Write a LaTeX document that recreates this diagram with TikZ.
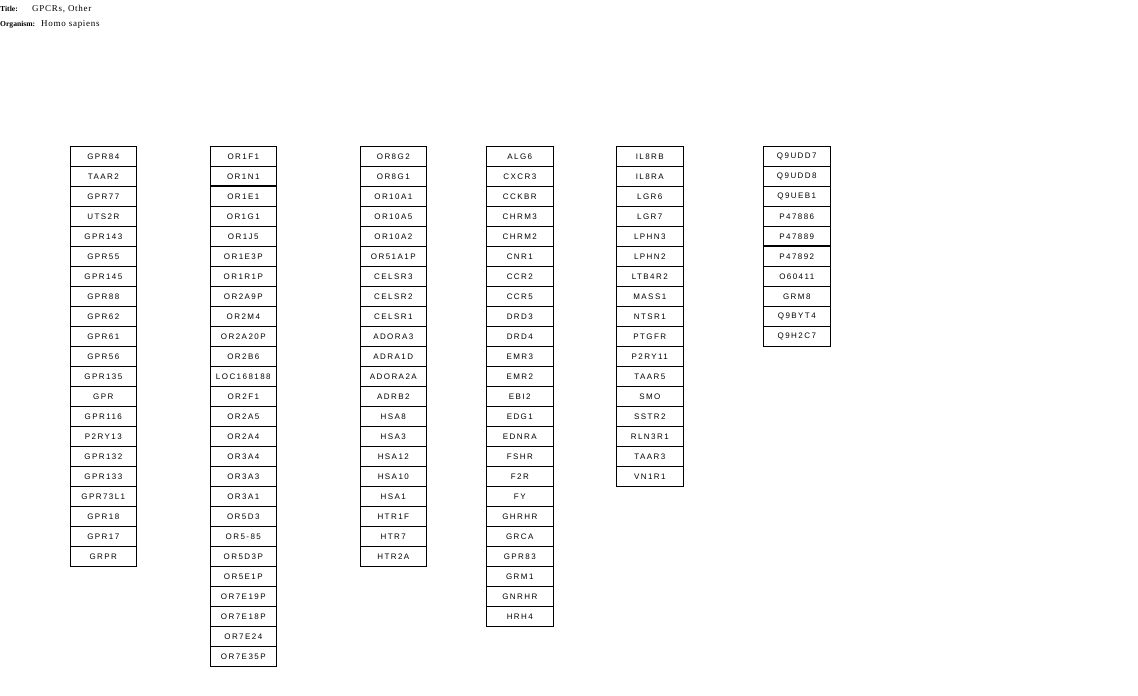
\documentclass[tikz,border=0pt]{standalone}
\usepackage{fontspec}
\setmainfont{Liberation Serif}
\newfontfamily\genefont[LetterSpace=18]{Liberation Sans}
\newfontfamily\hdrfont[LetterSpace=8]{Liberation Serif}
\begin{document}
\begin{tikzpicture}[x=1pt,y=-1pt,
  genebox/.style={draw=black,line width=0.6pt,minimum width=66pt,minimum height=20pt,inner sep=0pt,anchor=north west,font=\genefont\fontsize{8}{9}\selectfont},
  hdrkey/.style={anchor=base west,inner sep=0pt,font=\rmfamily\bfseries\fontsize{7.6}{9}\selectfont},
  hdr/.style={anchor=base west,inner sep=0pt,font=\hdrfont\fontsize{9}{10}\selectfont}]
\useasboundingbox (0,0) rectangle (1138,696);
\node[hdrkey] (t1) at (0,12) {Title:};
\node[hdr] (t2) at (32,12) {GPCRs, Other};
\node[hdrkey] (o1) at (0,26) {Organism:};
\node[hdr] (o2) at (41,26) {Homo sapiens};
% column 1
\foreach \t [count=\i from 0] in {GPR84,TAAR2,GPR77,UTS2R,GPR143,GPR55,GPR145,GPR88,GPR62,GPR61,GPR56,GPR135,GPR,GPR116,P2RY13,GPR132,GPR133,GPR73L1,GPR18,GPR17,GRPR}
  \node[genebox] (a\i) at (70,146+20*\i) {\t};
% column 2
\foreach \t [count=\i from 0] in {OR1F1,OR1N1,OR1E1,OR1G1,OR1J5,OR1E3P,OR1R1P,OR2A9P,OR2M4,OR2A20P,OR2B6,LOC168188,OR2F1,OR2A5,OR2A4,OR3A4,OR3A3,OR3A1,OR5D3,OR5-85,OR5D3P,OR5E1P,OR7E19P,OR7E18P,OR7E24,OR7E35P}
  \node[genebox] (b\i) at (210,146+20*\i) {\t};
% column 3
\foreach \t [count=\i from 0] in {OR8G2,OR8G1,OR10A1,OR10A5,OR10A2,OR51A1P,CELSR3,CELSR2,CELSR1,ADORA3,ADRA1D,ADORA2A,ADRB2,HSA8,HSA3,HSA12,HSA10,HSA1,HTR1F,HTR7,HTR2A}
  \node[genebox] (c\i) at (360,146+20*\i) {\t};
% column 4
\foreach \t [count=\i from 0] in {ALG6,CXCR3,CCKBR,CHRM3,CHRM2,CNR1,CCR2,CCR5,DRD3,DRD4,EMR3,EMR2,EBI2,EDG1,EDNRA,FSHR,F2R,FY,GHRHR,GRCA,GPR83,GRM1,GNRHR,HRH4}
  \node[genebox,minimum width=67pt] (d\i) at (486,146+20*\i) {\t};
% column 5
\foreach \t [count=\i from 0] in {IL8RB,IL8RA,LGR6,LGR7,LPHN3,LPHN2,LTB4R2,MASS1,NTSR1,PTGFR,P2RY11,TAAR5,SMO,SSTR2,RLN3R1,TAAR3,VN1R1}
  \node[genebox,minimum width=67pt] (e\i) at (616,146+20*\i) {\t};
% column 6
\foreach \t [count=\i from 0] in {Q9UDD7,Q9UDD8,Q9UEB1,P47886,P47889,P47892,O60411,GRM8,Q9BYT4,Q9H2C7}
  \node[genebox,minimum width=67pt] (f\i) at (763,146+20*\i) {\t};
% thicker separators
\draw[line width=1.3pt] (b2.north west) -- (b2.north east);
\draw[line width=1.3pt] (f5.north west) -- (f5.north east);
\end{tikzpicture}
\end{document}
